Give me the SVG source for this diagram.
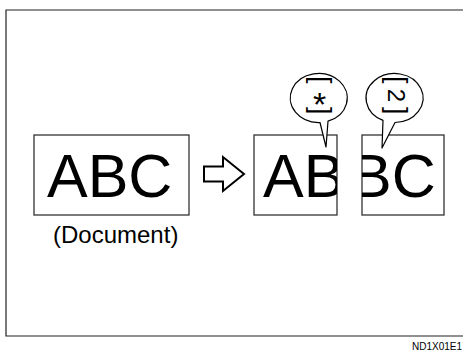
<svg xmlns="http://www.w3.org/2000/svg" width="463" height="351" viewBox="0 0 463 351">
<style>
.box{fill:#fff;stroke:#333;stroke-width:1.3}
.big{font-family:"Liberation Sans",Arial,sans-serif;font-size:61px;fill:#000}
.lbl{font-family:"Liberation Sans",Arial,sans-serif;font-size:24px;fill:#000}
.bt{font-family:"Liberation Sans",Arial,sans-serif;font-size:27px;fill:#000}
.dg{font-family:"Liberation Sans",Arial,sans-serif;font-size:24px;fill:#000}
.bub{fill:#fff;stroke:#000;stroke-width:1.2;stroke-linejoin:round}
.frame{fill:none;stroke:#222;stroke-width:1.2}
</style>
<defs>
<clipPath id="c1"><rect x="254" y="135" width="83" height="80"/></clipPath>
<clipPath id="c2"><rect x="362" y="135" width="82" height="80"/></clipPath>
</defs>
<path class="frame" d="M464,10 H6 V336 H464"/>
<g id="document">
<rect class="box" x="34" y="135" width="155" height="80"/>
<text class="big" x="47" y="197">ABC</text>
<text class="lbl" x="53" y="243">(Document)</text>
</g>
<g id="connectors">
<path d="M204,166.5 H223 V157 L244,174 L223,191 V181.5 H204 Z" fill="#fff" stroke="#000" stroke-width="2" stroke-linejoin="miter"/>
</g>
<g id="part1">
<rect class="box" x="254" y="135" width="83" height="80"/>
<text class="big" x="263" y="197" clip-path="url(#c1)">AB</text>
</g>
<g id="part2">
<rect class="box" x="362" y="135" width="82" height="80"/>
<text class="big" x="351" y="197" clip-path="url(#c2)">BC</text>
</g>
<g id="bubble1">
<path class="bub" d="M320,122.5 A28.5,24.5 0 1 1 328,121.2 L326,147 Z"/>
<g transform="translate(319,98) rotate(90)">
<text class="bt" x="-22" y="7">[</text>
<text class="bt" x="9" y="7">]</text>
</g>
<text x="319.5" y="116" text-anchor="middle" font-family="Liberation Sans,Arial,sans-serif" font-size="34">*</text>
</g>
<g id="bubble2">
<path class="bub" d="M383,120.4 A28.5,24.5 0 1 1 395,122.5 L382,148 Z"/>
<g transform="translate(394.5,98) rotate(90)">
<text class="bt" x="-22" y="7">[</text>
<text class="dg" x="-2.5" y="7" text-anchor="middle">2</text>
<text class="bt" x="9" y="7">]</text>
</g>
</g>
<text x="412" y="350" font-family="Liberation Sans,Arial,sans-serif" font-size="10" fill="#000">ND1X01E1</text>
</svg>
